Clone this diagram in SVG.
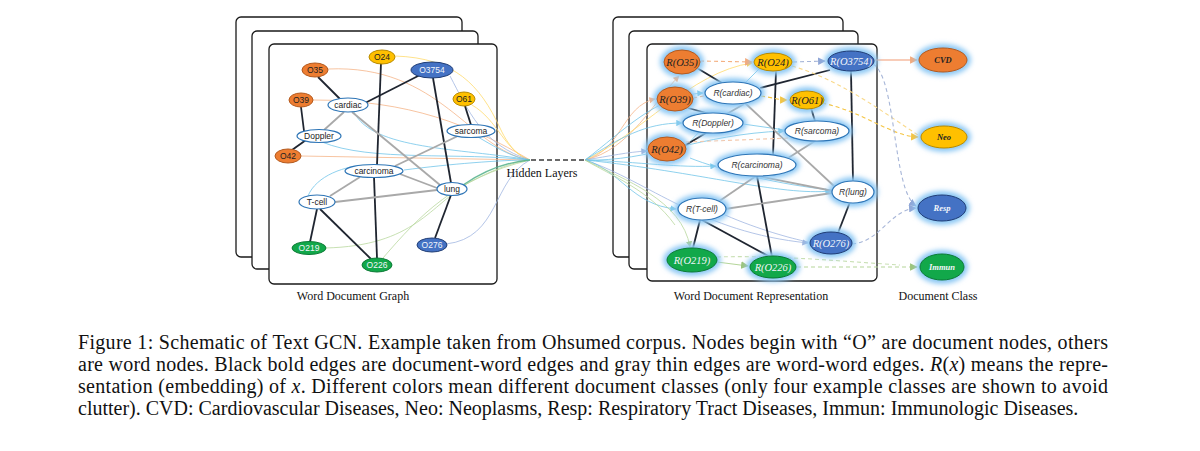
<svg xmlns="http://www.w3.org/2000/svg" width="1200" height="451" viewBox="0 0 1200 451">
<style>
.frame{fill:#fff;stroke:#1a1a1a;stroke-width:1.3}
.doc{stroke-width:1}
.or{fill:#ED7D31;stroke:#B35A1F}
.ye{fill:#FFC000;stroke:#B88A00}
.bl{fill:#4472C4;stroke:#203D75}
.gr{fill:#12A84A;stroke:#0B7A35}
.wd{fill:#fff;stroke:#2E75B6;stroke-width:1.2}
.lt{font-family:"Liberation Sans",Arial,sans-serif;font-size:8.5px;text-anchor:middle;fill:#222}
.rd{font-family:"Liberation Serif","Times New Roman",serif;font-style:italic;font-size:10.5px;text-anchor:middle;fill:#222}
.rw{font-family:"Liberation Sans",Arial,sans-serif;font-style:italic;font-size:8.5px;text-anchor:middle;fill:#333}
.cl{font-family:"Liberation Serif","Times New Roman",serif;font-style:italic;font-weight:bold;font-size:8.5px;text-anchor:middle;fill:#222}
text.lw{fill:#F2F5FB}
.halo{fill:#8CC8F4;filter:url(#glow)}
.blk{stroke:#1f2530;stroke-width:1.8;fill:none}
.gry{stroke:#a9a9a9;stroke-width:1.8;fill:none}
.c{fill:none;stroke-width:0.9;opacity:0.85}
.co{stroke:#F4B183}
.cy{stroke:#FFD966}
.cc{stroke:#6CC3E8}
.cb{stroke:#9DB3E0}
.cg{stroke:#B5D69A}
.ct{stroke:#52B08A}
.dash{fill:none;stroke-width:1.1;stroke-dasharray:4,3}
.lab{font-family:"Liberation Serif","Times New Roman",serif;font-size:12px;text-anchor:middle;fill:#111}
.cap{font-family:"Liberation Serif","Times New Roman",serif;font-size:20px;fill:#111}
</style>
<defs>
<filter id="glow" x="-50%" y="-50%" width="200%" height="200%"><feGaussianBlur stdDeviation="2.6"/></filter>
<marker id="ao" viewBox="0 0 10 10" refX="9" refY="5" markerWidth="7" markerHeight="7" orient="auto"><path d="M0,0 L10,5 L0,10 z" fill="#F4A97A"/></marker>
<marker id="ay" viewBox="0 0 10 10" refX="9" refY="5" markerWidth="7" markerHeight="7" orient="auto"><path d="M0,0 L10,5 L0,10 z" fill="#F5C542"/></marker>
<marker id="ac" viewBox="0 0 10 10" refX="9" refY="5" markerWidth="7" markerHeight="7" orient="auto"><path d="M0,0 L10,5 L0,10 z" fill="#6CC3E8"/></marker>
<marker id="ab" viewBox="0 0 10 10" refX="9" refY="5" markerWidth="7" markerHeight="7" orient="auto"><path d="M0,0 L10,5 L0,10 z" fill="#8FA6D6"/></marker>
<marker id="ag" viewBox="0 0 10 10" refX="9" refY="5" markerWidth="7" markerHeight="7" orient="auto"><path d="M0,0 L10,5 L0,10 z" fill="#9CC47A"/></marker>
</defs>
<rect width="1200" height="451" fill="#fff"/>

<!-- frames -->
<g id="frames">
<rect class="frame" x="236" y="17" width="226" height="240" rx="5"/>
<rect class="frame" x="252" y="31" width="226" height="238" rx="5"/>
<rect class="frame" x="269" y="44" width="228" height="240" rx="5"/>
<rect class="frame" x="613" y="17" width="230" height="240" rx="5"/>
<rect class="frame" x="629" y="31" width="229" height="238" rx="5"/>
<rect class="frame" x="647" y="44" width="230" height="237" rx="5"/>
</g>

<!-- connectors -->
<g id="connectors">
<!-- left fan to hidden layers -->
<path class="c co" d="M328,69 C440,64 470,150 530,160"/>
<path class="c co" d="M313,100 C410,100 470,125 530,160"/>
<path class="c co" d="M301,156 L530,160"/>
<path class="c cy" d="M395,56 C455,58 480,85 500,128 C510,150 522,158 530,160"/>
<path class="c cy" d="M472,105 C498,120 505,152 530,160"/>
<path class="c cb" d="M450,76 C468,110 482,145 530,160"/>
<path class="c cc" d="M354,112 C372,150 460,148 530,160"/>
<path class="c cc" d="M322,142 C370,162 460,152 530,160"/>
<path class="c cc" d="M478,137 C500,150 515,158 530,160"/>
<path class="c cc" d="M404,170 C450,164 500,160 530,160"/>
<path class="c cc" d="M308,196 C316,176 345,165 370,165"/>
<path class="c cg" d="M325,248 C415,246 430,205 470,182 C500,166 520,161 530,160"/>
<path class="c cg" d="M383,258 C420,215 455,178 530,160"/>
<path class="c cb" d="M446,244 C500,238 492,180 530,160"/>
<path class="c ct" style="stroke-width:1.3" d="M463,185 C485,170 505,162 530,160"/>
<!-- hidden layers -->
<path d="M531,160 L585,160" stroke="#3a3a3a" stroke-width="1.6" stroke-dasharray="5,3" fill="none"/>
<!-- right fan from hidden layers -->
<path class="c co" d="M585,160 C622,150 622,106 655,99" marker-end="url(#ao)"/>
<path class="c co" d="M585,160 C630,150 655,100 679,76" marker-end="url(#ao)"/>
<path class="c cy" d="M585,160 C640,135 690,72 752,63" marker-end="url(#ay)"/>
<path class="c cc" d="M585,160 C620,138 645,123 682,123" marker-end="url(#ac)"/>
<path class="c cc" d="M585,160 C625,130 655,96 703,93" marker-end="url(#ac)"/>
<path class="c cb" d="M585,160 C610,156 628,152 647,151" marker-end="url(#ab)"/>
<path class="c cc" d="M585,160 C640,162 680,168 716,166" marker-end="url(#ac)"/>
<path class="c cc" d="M585,160 C650,162 700,134 784,131" marker-end="url(#ac)"/>
<path class="c cc" d="M585,160 C700,172 780,196 831,191" marker-end="url(#ac)"/>
<path class="c cb" d="M585,160 C650,182 700,232 808,243" marker-end="url(#ab)"/>
<path class="c cc" d="M585,160 C620,170 632,205 676,209" marker-end="url(#ac)"/>
<path class="c cg" d="M585,160 C625,180 682,200 690,247" marker-end="url(#ag)"/>
<path class="c cg" d="M585,160 C610,175 650,190 675,225"/>
<!-- left black edges -->
<path class="blk" d="M318,77 L340,99"/>
<path class="blk" d="M301,107 L304,131"/>
<path class="blk" d="M292,150 L306,140"/>
<path class="blk" d="M420,75 L365,103"/>
<path class="blk" d="M381,63 L377,165"/>
<path class="blk" d="M374,177 L377,258"/>
<path class="blk" d="M433,78 L451,183"/>
<path class="blk" d="M465,106 L471,125"/>
<path class="blk" d="M451,195 L435,238"/>
<path class="blk" d="M317,209 L310,242"/>
<path class="blk" d="M320,209 L371,259"/>
<!-- left gray edges -->
<path class="gry" d="M344,112 L324,130"/>
<path class="gry" d="M352,112 L440,185"/>
<path class="gry" d="M460,135 L395,166"/>
<path class="gry" d="M360,177 L330,196"/>
<path class="gry" d="M400,174 L437,188"/>
<path class="gry" d="M335,202 L437,190"/>
<!-- right thin blue edges -->
<path class="c cc" d="M760,68 L745,83"/>
<path class="c cc" d="M743,124 L785,130"/>
<path class="c cc" d="M685,147 L700,131"/>
<path class="c cb" d="M725,215 C760,230 790,238 808,242"/>
<path class="c cc" d="M690,158 C720,170 780,185 832,190"/>
<!-- right black edges -->
<path class="blk" d="M697,68 L722,83"/>
<path class="blk" d="M688,108 L710,114"/>
<path class="blk" d="M684,146 L706,133"/>
<path class="blk" d="M830,70 L760,88"/>
<path class="blk" d="M776,71 L773,155"/>
<path class="blk" d="M757,176 L772,257"/>
<path class="blk" d="M851,71 L853,181"/>
<path class="blk" d="M811,108 L815,121"/>
<path class="blk" d="M850,202 L838,233"/>
<path class="blk" d="M700,220 L693,248"/>
<path class="blk" d="M702,220 L770,257"/>
<!-- right gray edges -->
<path class="gry" d="M744,104 L725,115"/>
<path class="gry" d="M745,103 L835,187"/>
<path class="gry" d="M815,141 L785,160"/>
<path class="gry" d="M756,176 L718,202"/>
<path class="gry" d="M758,176 L833,191"/>
<path class="gry" d="M725,209 L832,193"/>
<!-- class flows -->
<path class="dash" stroke="#F4B183" d="M700,61 L752,62" marker-end="url(#ao)"/>
<path class="dash" stroke="#A7B6D8" d="M793,62 L825,61" marker-end="url(#ab)"/>
<path fill="none" stroke="#F29A72" stroke-width="1.1" d="M874,60 L917,60" marker-end="url(#ao)"/>
<path class="dash" stroke="#F4B183" d="M693,98 L704,96"/>
<path class="dash" stroke="#F5C542" d="M761,96 C775,98 780,100 787,100" marker-end="url(#ay)"/>
<path class="dash" stroke="#F5C542" d="M822,103 C865,112 890,136 918,137" marker-end="url(#ay)"/>
<path class="dash" stroke="#F9D98A" d="M792,66 C840,80 880,110 918,135"/>
<path class="dash" stroke="#A7B6D8" d="M873,64 C897,78 892,190 916,206" marker-end="url(#ab)"/>
<path class="dash" stroke="#A7B6D8" d="M852,244 C880,242 890,210 916,208" marker-end="url(#ab)"/>
<path fill="none" stroke="#B5D69A" stroke-width="1.1" d="M717,262 L748,266" marker-end="url(#ag)"/>
<path class="dash" stroke="#B5D69A" d="M797,267 L917,267" marker-end="url(#ag)"/>
<path class="dash" stroke="#C9E0B4" d="M717,257 C780,255 850,262 900,265"/>
<path class="dash" stroke="#F4C6A8" d="M686,142 C740,140 790,138 835,136"/>
</g>

<!-- left nodes -->
<g id="n-O24"><ellipse class="doc ye" cx="382" cy="57" rx="13" ry="7"/><text class="lt" x="382" y="60">O24</text></g>
<g id="n-O35"><ellipse class="doc or" cx="315" cy="70" rx="13" ry="7"/><text class="lt" x="315" y="73">O35</text></g>
<g id="n-O3754"><ellipse class="doc bl" cx="432" cy="70" rx="21" ry="8"/><text class="lt lw" x="432" y="73">O3754</text></g>
<g id="n-O39"><ellipse class="doc or" cx="301" cy="100" rx="12" ry="7"/><text class="lt" x="301" y="103">O39</text></g>
<g id="n-cardiac"><ellipse class="wd" cx="348" cy="105" rx="20" ry="7"/><text class="lt" x="348" y="108">cardiac</text></g>
<g id="n-O61"><ellipse class="doc ye" cx="464" cy="99" rx="11" ry="7"/><text class="lt" x="464" y="102">O61</text></g>
<g id="n-Doppler"><ellipse class="wd" cx="319" cy="136" rx="22" ry="6.5"/><text class="lt" x="319" y="139">Doppler</text></g>
<g id="n-sarcoma"><ellipse class="wd" cx="471" cy="131" rx="24" ry="6.5"/><text class="lt" x="471" y="134">sarcoma</text></g>
<g id="n-O42"><ellipse class="doc or" cx="288" cy="156" rx="13" ry="7"/><text class="lt" x="288" y="159">O42</text></g>
<g id="n-carcinoma"><ellipse class="wd" cx="374" cy="171" rx="29" ry="6.5"/><text class="lt" x="374" y="174">carcinoma</text></g>
<g id="n-lung"><ellipse class="wd" cx="452" cy="189" rx="15" ry="6.5"/><text class="lt" x="452" y="192">lung</text></g>
<g id="n-Tcell"><ellipse class="wd" cx="317" cy="202" rx="18" ry="7"/><text class="lt" x="317" y="205">T-cell</text></g>
<g id="n-O219"><ellipse class="doc gr" cx="309" cy="248" rx="17" ry="6.5"/><text class="lt lw" x="309" y="251">O219</text></g>
<g id="n-O276"><ellipse class="doc bl" cx="432" cy="245" rx="15" ry="7"/><text class="lt lw" x="432" y="248">O276</text></g>
<g id="n-O226"><ellipse class="doc gr" cx="377" cy="265" rx="15" ry="7"/><text class="lt lw" x="377" y="268">O226</text></g>

<!-- right nodes -->
<g id="r-O35"><ellipse class="halo" cx="682" cy="62" rx="22" ry="16"/><ellipse class="doc or" cx="682" cy="62" rx="18" ry="12"/><text class="rd" x="682" y="65.5">R(O35)</text></g>
<g id="r-O24"><ellipse class="halo" cx="773" cy="62" rx="23" ry="13"/><ellipse class="doc ye" cx="773" cy="62" rx="19" ry="9"/><text class="rd" x="773" y="65.5">R(O24)</text></g>
<g id="r-O3754"><ellipse class="halo" cx="851" cy="61" rx="27" ry="14"/><ellipse class="doc bl" cx="851" cy="61" rx="23" ry="10"/><text class="rd lw" x="851" y="64.5">R(O3754)</text></g>
<g id="r-O39"><ellipse class="halo" cx="675" cy="99" rx="22" ry="16"/><ellipse class="doc or" cx="675" cy="99" rx="18" ry="12"/><text class="rd" x="675" y="102.5">R(O39)</text></g>
<g id="r-cardiac"><ellipse class="halo" cx="733" cy="93" rx="32" ry="15"/><ellipse class="wd" cx="733" cy="93" rx="28" ry="11"/><text class="rw" x="733" y="96">R(cardiac)</text></g>
<g id="r-O61"><ellipse class="halo" cx="807" cy="100" rx="21" ry="13"/><ellipse class="doc ye" cx="807" cy="100" rx="17" ry="9"/><text class="rd" x="807" y="103.5">R(O61)</text></g>
<g id="r-Doppler"><ellipse class="halo" cx="713" cy="123" rx="34" ry="14"/><ellipse class="wd" cx="713" cy="123" rx="30" ry="10"/><text class="rw" x="713" y="126">R(Doppler)</text></g>
<g id="r-sarcoma"><ellipse class="halo" cx="817" cy="131" rx="36" ry="14"/><ellipse class="wd" cx="817" cy="131" rx="32" ry="10"/><text class="rw" x="817" y="134">R(sarcoma)</text></g>
<g id="r-O42"><ellipse class="halo" cx="667" cy="149" rx="23" ry="16"/><ellipse class="doc or" cx="667" cy="149" rx="19" ry="12"/><text class="rd" x="667" y="152.5">R(O42)</text></g>
<g id="r-carcinoma"><ellipse class="halo" cx="757" cy="165" rx="43" ry="15"/><ellipse class="wd" cx="757" cy="165" rx="39" ry="11"/><text class="rw" x="757" y="168">R(carcinoma)</text></g>
<g id="r-lung"><ellipse class="halo" cx="853" cy="192" rx="25" ry="15"/><ellipse class="wd" cx="853" cy="192" rx="21" ry="11"/><text class="rw" x="853" y="195">R(lung)</text></g>
<g id="r-Tcell"><ellipse class="halo" cx="702" cy="209" rx="28" ry="15"/><ellipse class="wd" cx="702" cy="209" rx="24" ry="11"/><text class="rw" x="702" y="212">R(T-cell)</text></g>
<g id="r-O276"><ellipse class="halo" cx="831" cy="243" rx="25" ry="15"/><ellipse class="doc bl" cx="831" cy="243" rx="21" ry="11"/><text class="rd lw" x="831" y="246.5">R(O276)</text></g>
<g id="r-O219"><ellipse class="halo" cx="692" cy="260" rx="29" ry="16"/><ellipse class="doc gr" cx="692" cy="260" rx="25" ry="12"/><text class="rd lw" x="692" y="263.5">R(O219)</text></g>
<g id="r-O226"><ellipse class="halo" cx="773" cy="267" rx="27" ry="15"/><ellipse class="doc gr" cx="773" cy="267" rx="23" ry="11"/><text class="rd lw" x="773" y="270.5">R(O226)</text></g>

<!-- class nodes -->
<g id="c-CVD"><ellipse class="halo" cx="943" cy="60" rx="28" ry="16"/><ellipse class="doc or" cx="943" cy="60" rx="24" ry="12"/><text class="cl" x="943" y="63">CVD</text></g>
<g id="c-Neo"><ellipse class="halo" cx="944" cy="137" rx="27" ry="15"/><ellipse class="doc ye" cx="944" cy="137" rx="23" ry="11"/><text class="cl" x="944" y="140">Neo</text></g>
<g id="c-Resp"><ellipse class="halo" cx="942" cy="208" rx="28" ry="17"/><ellipse class="doc bl" cx="942" cy="208" rx="24" ry="13"/><text class="cl lw" x="942" y="211">Resp</text></g>
<g id="c-Immun"><ellipse class="halo" cx="942" cy="267" rx="26" ry="17"/><ellipse class="doc gr" cx="942" cy="267" rx="22" ry="13"/><text class="cl lw" x="942" y="270">Immun</text></g>

<!-- labels -->
<g id="labels">
<text class="lab" x="353" y="300">Word Document Graph</text>
<text class="lab" x="542" y="177">Hidden Layers</text>
<text class="lab" x="751" y="300">Word Document Representation</text>
<text class="lab" x="938" y="300">Document Class</text>
</g>

<g id="caption">
<text class="cap" x="78" y="349" textLength="1030" lengthAdjust="spacing">Figure 1: Schematic of Text GCN. Example taken from Ohsumed corpus. Nodes begin with “O” are document nodes, others</text>
<text class="cap" x="78" y="371" textLength="1030" lengthAdjust="spacing">are word nodes. Black bold edges are document-word edges and gray thin edges are word-word edges. <tspan font-style="italic">R</tspan>(<tspan font-style="italic">x</tspan>) means the repre-</text>
<text class="cap" x="78" y="393" textLength="1030" lengthAdjust="spacing">sentation (embedding) of <tspan font-style="italic">x</tspan>. Different colors mean different document classes (only four example classes are shown to avoid</text>
<text class="cap" x="78" y="415">clutter). CVD: Cardiovascular Diseases, Neo: Neoplasms, Resp: Respiratory Tract Diseases, Immun: Immunologic Diseases.</text>
</g>
</svg>
